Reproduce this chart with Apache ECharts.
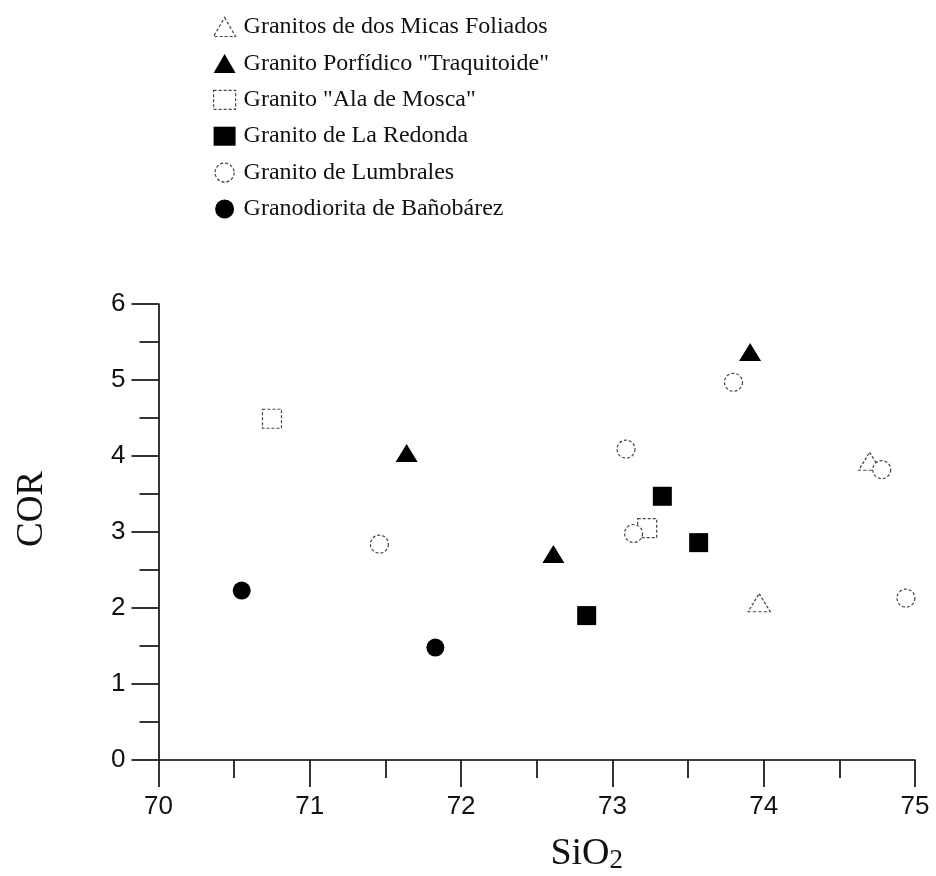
<!DOCTYPE html>
<html>
<head>
<meta charset="utf-8">
<script src="https://cdn.jsdelivr.net/npm/echarts@6/dist/echarts.min.js"></script>
<style>html,body{margin:0;padding:0;background:#fff;}#c{width:936px;height:876px;}</style>
</head>
<body>
<div id="c"></div>
<script>
// Series names
const names = [
  'Granitos de dos Micas Foliados',
  'Granito Porfídico "Traquitoide"',
  'Granito "Ala de Mosca"',
  'Granito de La Redonda',
  'Granito de Lumbrales',
  'Granodiorita de Bañobárez'
];
// [SiO2, COR]
const micasFoliados = [[73.97, 2.07], [74.70, 3.93]];
const porfidico = [[73.91, 5.37], [71.64, 4.04], [72.61, 2.71]];
const alaDeMosca = [[70.75, 4.49], [73.23, 3.05]];
const laRedonda = [[73.33, 3.47], [73.57, 2.86], [72.83, 1.90]];
const lumbrales = [[73.80, 4.97], [73.09, 4.09], [73.14, 2.98], [74.78, 3.82], [74.94, 2.13], [71.46, 2.84]];
const banobarez = [[70.55, 2.23], [71.83, 1.48]];
const xTicks = [70, 71, 72, 73, 74, 75];
const yTicks = [0, 1, 2, 3, 4, 5, 6];

const openStyle = { color: '#ffffff', borderColor: '#444', borderWidth: 1.2, borderType: [3, 2], opacity: 1 };
const fillStyle = { color: '#000000', opacity: 1 };
const openIdx = [0, 2, 4];

const chart = echarts.init(document.getElementById('c'), null, { renderer: 'canvas' });
const mk = (name, data, symbol, size, style) => ({
  name, type: 'scatter', data, symbol, symbolSize: size, itemStyle: style,
  emphasis: { disabled: true }, z: 3
});
chart.setOption({
  animation: false,
  backgroundColor: '#ffffff',
  legend: {
    orient: 'vertical', left: 208, top: 10,
    itemWidth: 22, itemHeight: 19, itemGap: 12.4,
    textStyle: { fontFamily: 'Liberation Serif', fontSize: 24, color: '#111', lineHeight: 22, padding: [0, 0, 0, 3] },
    data: names.map((n, i) => openIdx.includes(i)
      ? { name: n, itemStyle: { color: '#ffffff', borderColor: '#444', borderWidth: 1.2, borderType: [3, 2] } }
      : { name: n, itemStyle: { color: '#000000' } })
  },
  grid: { left: 158.5, right: 21, top: 304, bottom: 116, containLabel: false, outerBoundsMode: 'none' },
  xAxis: {
    type: 'value', min: xTicks[0], max: xTicks[xTicks.length - 1], interval: 1,
    name: 'SiO{s|2}', nameLocation: 'middle', nameGap: 75,
    nameTextStyle: {
      fontFamily: 'Liberation Serif', fontSize: 38, color: '#111', padding: [0, 0, 0, 100],
      rich: { s: { fontFamily: 'Liberation Serif', fontSize: 27, color: '#111', padding: [12, 0, 0, 0] } }
    },
    axisLine: { show: true, onZero: false, lineStyle: { color: '#000', width: 1.6 } },
    axisTick: { show: true, inside: false, length: 27, lineStyle: { color: '#000', width: 1.6 } },
    minorTick: { show: true, splitNumber: 2, length: 18, lineStyle: { color: '#000', width: 1.6 } },
    splitLine: { show: false },
    axisLabel: { margin: 34, fontFamily: 'Liberation Sans', fontSize: 26, color: '#111',
      formatter: v => xTicks.includes(v) ? String(v) : '' }
  },
  yAxis: {
    type: 'value', min: yTicks[0], max: yTicks[yTicks.length - 1], interval: 1,
    name: 'COR', nameLocation: 'middle', nameGap: 108, nameRotate: 90,
    nameTextStyle: { fontFamily: 'Liberation Serif', fontSize: 37, color: '#111', padding: [0, 0, 0, 46] },
    axisLine: { show: true, onZero: false, lineStyle: { color: '#000', width: 1.6 } },
    axisTick: { show: true, inside: false, length: 27, lineStyle: { color: '#000', width: 1.6 } },
    minorTick: { show: true, splitNumber: 2, length: 19, lineStyle: { color: '#000', width: 1.6 } },
    splitLine: { show: false },
    axisLabel: { margin: 33, fontFamily: 'Liberation Sans', fontSize: 26, color: '#111',
      formatter: v => yTicks.includes(v) ? String(v) : '' }
  },
  series: [
    mk(names[0], micasFoliados, 'triangle', [22, 18], openStyle),
    mk(names[1], porfidico, 'triangle', [22, 18], fillStyle),
    mk(names[2], alaDeMosca, 'rect', 19, openStyle),
    mk(names[3], laRedonda, 'rect', 19, fillStyle),
    mk(names[4], lumbrales, 'circle', 18, openStyle),
    mk(names[5], banobarez, 'circle', 18, fillStyle)
  ]
});
</script>
</body>
</html>
